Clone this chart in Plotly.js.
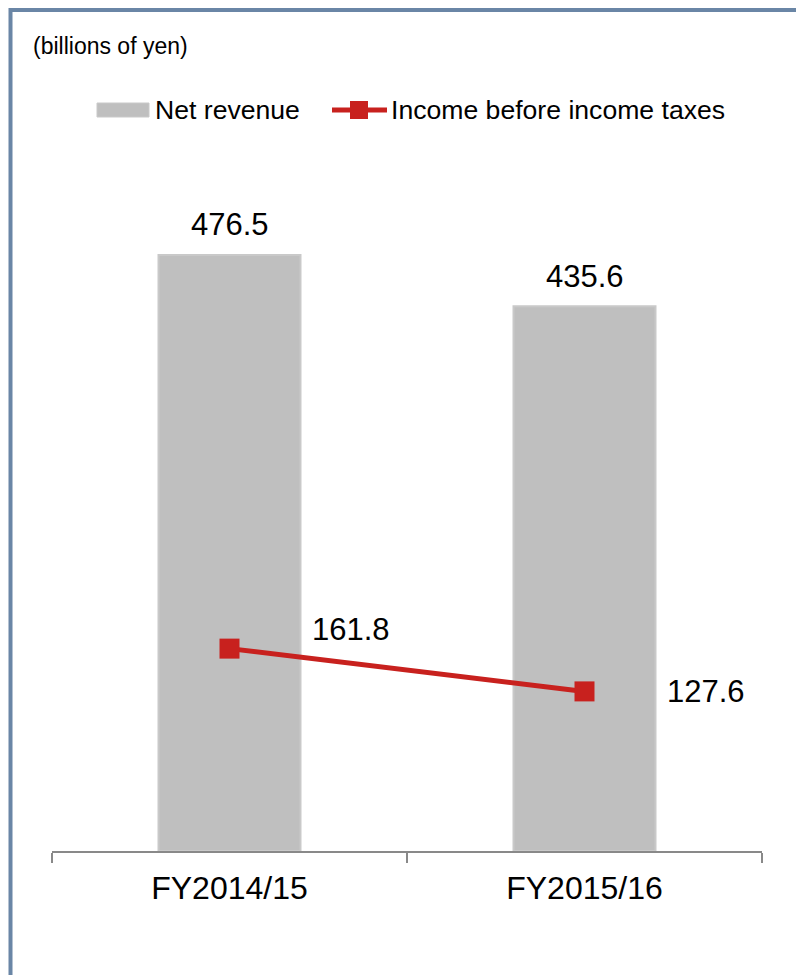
<!DOCTYPE html>
<html>
<head>
<meta charset="utf-8">
<script src="https://cdn.plot.ly/plotly-3.0.1.min.js"></script>
<style>
html,body{margin:0;padding:0;background:#fff;}
#chart{width:796px;height:975px;}
</style>
</head>
<body>
<div id="chart"></div>
<script>
const categories = ["FY2014/15", "FY2015/16"];
const netRevenue = [476.5, 435.6];
const incomeBeforeTaxes = [161.8, 127.6];
const unitLabel = "(billions of yen)";
const seriesNames = ["Net revenue", "Income before income taxes"];

const FONT = "Liberation Sans, Arial, sans-serif";
const W = 796, H = 975;
const M = {l: 52, r: 34, t: 140, b: 124};
const pw = W - M.l - M.r, ph = H - M.t - M.b;
const px2x = p => (p - M.l) / pw;
const py2y = p => (H - M.b - p) / ph;

const BAR_COLOR = "#BFBFBF";
const LINE_COLOR = "#C8211E";

const traces = [
  {
    type: "bar",
    name: seriesNames[0],
    x: categories,
    y: netRevenue,
    width: 0.4,
    marker: {color: BAR_COLOR, line: {color: "#C9C9C9", width: 2}},
    showlegend: false,
    hoverinfo: "skip"
  },
  {
    type: "scatter",
    mode: "lines+markers",
    name: seriesNames[1],
    x: categories,
    y: incomeBeforeTaxes,
    line: {color: LINE_COLOR, width: 5},
    marker: {symbol: "square", size: 20, color: LINE_COLOR},
    showlegend: false,
    hoverinfo: "skip"
  }
];

const LABEL_FONT = {family: FONT, size: 31, color: "#000"};
const annotations = [];
categories.forEach((c, i) => {
  annotations.push({
    x: c, y: netRevenue[i], xref: "x", yref: "y",
    text: netRevenue[i].toFixed(1), showarrow: false,
    yshift: 30, font: LABEL_FONT
  });
  annotations.push({
    x: c, y: incomeBeforeTaxes[i], xref: "x", yref: "y",
    text: incomeBeforeTaxes[i].toFixed(1), showarrow: false,
    xshift: 121, yshift: i === 0 ? 19 : 0,
    font: LABEL_FONT
  });
});
annotations.push({
  xref: "paper", yref: "paper", x: px2x(31), y: py2y(46),
  xanchor: "left", yanchor: "middle", showarrow: false,
  text: unitLabel, font: {family: FONT, size: 23, color: "#000"}
});

// custom legend (text from seriesNames)
const LEG_Y = 110;
const LEG_FONT = {family: FONT, size: 26.6, color: "#000"};
annotations.push({
  xref: "paper", yref: "paper", x: px2x(153), y: py2y(LEG_Y),
  xanchor: "left", yanchor: "middle", showarrow: false,
  text: seriesNames[0], font: LEG_FONT
});
annotations.push({
  xref: "paper", yref: "paper", x: px2x(389), y: py2y(LEG_Y),
  xanchor: "left", yanchor: "middle", showarrow: false,
  text: seriesNames[1], font: LEG_FONT
});

const borderColor = "#6A86A6";
const shapes = [
  {type: "line", xref: "paper", yref: "paper",
   x0: px2x(10.5), x1: px2x(W + 2), y0: py2y(10), y1: py2y(10),
   line: {color: borderColor, width: 4}},
  {type: "line", xref: "paper", yref: "paper",
   x0: px2x(10.5), x1: px2x(10.5), y0: py2y(8), y1: py2y(H + 2),
   line: {color: borderColor, width: 4}},
  // legend symbols
  {type: "rect", xref: "paper", yref: "paper",
   x0: px2x(97), x1: px2x(149), y0: py2y(103), y1: py2y(117),
   fillcolor: BAR_COLOR, line: {color: "#C9C9C9", width: 1}},
  {type: "line", xref: "paper", yref: "paper",
   x0: px2x(332), x1: px2x(387), y0: py2y(LEG_Y), y1: py2y(LEG_Y),
   line: {color: LINE_COLOR, width: 5}},
  {type: "rect", xref: "paper", yref: "paper",
   x0: px2x(350), x1: px2x(368), y0: py2y(101), y1: py2y(119),
   fillcolor: LINE_COLOR, line: {width: 0}}
];

const layout = {
  width: W, height: H,
  margin: M,
  paper_bgcolor: "#fff", plot_bgcolor: "#fff",
  font: {family: FONT, color: "#000"},
  showlegend: false,
  bargap: 0.6,
  xaxis: {
    type: "category",
    showline: true, linecolor: "#898989", linewidth: 2,
    ticks: "outside", tickson: "boundaries", ticklen: 10, tickcolor: "#898989", tickwidth: 2,
    tickfont: {family: FONT, size: 32, color: "#000"},
    ticklabelstandoff: 8,
    showgrid: false, zeroline: false, fixedrange: true
  },
  yaxis: {
    range: [0, ph / 1.2508],
    visible: false, showgrid: false, zeroline: false, fixedrange: true
  },
  annotations: annotations,
  shapes: shapes
};

Plotly.newPlot("chart", traces, layout, {staticPlot: true, displayModeBar: false});
</script>
</body>
</html>
